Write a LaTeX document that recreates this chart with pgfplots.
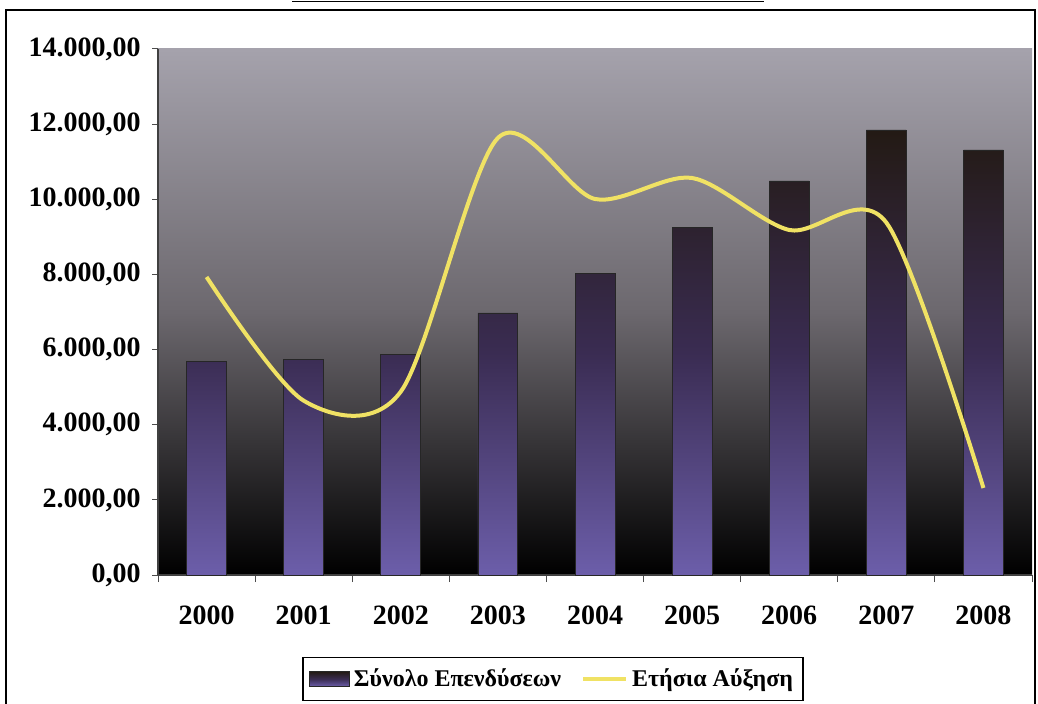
\documentclass[border=0pt]{standalone}
\usepackage{fontspec}
\setmainfont{Liberation Serif}
\usepackage{pgfplots}
\pgfplotsset{compat=1.18}

\definecolor{barTop}{RGB}{35,26,20}
\definecolor{barMid}{RGB}{58,44,82}
\definecolor{barBot}{RGB}{108,94,170}
\definecolor{bgTop}{RGB}{165,162,172}
\definecolor{bgMid}{RGB}{108,104,110}
\definecolor{lineYellow}{RGB}{240,226,100}

\newcommand{\chartfont}{\fontsize{14}{16.5}\selectfont\bfseries}
\newcommand{\legendfont}{\fontsize{12}{14}\selectfont\bfseries}

\begin{document}
\begin{tikzpicture}
\path[use as bounding box] (0pt,0pt) rectangle (519pt,351.5pt);
% page frame
\draw[line width=1pt] (3pt,-2pt) -- (3pt,346.5pt) -- (517.5pt,346.5pt) -- (517.5pt,-2pt);
\draw[line width=0.6pt] (146pt,350.8pt) -- (382pt,350.8pt);
\begin{axis}[
  at={(79pt,64pt)}, anchor=south west,
  scale only axis, width=437pt, height=263pt,
  xmin=-0.5, xmax=8.5, ymin=0, ymax=14000,
  axis background/.style={top color=bgTop, bottom color=black, middle color=bgMid},
  axis x line*=bottom, axis y line*=left,
  axis line style={black!75, line width=0.6pt},
  xtick={0,...,8},
  xticklabels={2000,2001,2002,2003,2004,2005,2006,2007,2008},
  minor xtick={-0.5,0.5,...,8.5},
  ytick={0,2000,...,14000},
  tick align=outside,
  major tick length=3pt, minor tick length=3.5pt,
  major x tick style={draw=none},
  minor x tick style={black!70, line width=0.5pt},
  y tick style={black!70, line width=0.5pt},
  scaled y ticks=false,
  tick label style={font=\chartfont},
  yticklabel style={inner sep=0pt, xshift=-5.5pt,
    /pgf/number format/.cd, fixed, fixed zerofill, precision=2,
    use comma, 1000 sep={.}, assume math mode=true},
  xticklabel style={inner sep=0pt, yshift=-12pt},
  legend style={at={(0.452,-0.1977)}, anchor=center, legend columns=-1,
    draw=black, line width=0.8pt, font=\legendfont, inner xsep=3pt, inner ysep=3.5pt,
    /tikz/every even column/.append style={column sep=8pt}},
]
\addplot[ybar, bar width=0.41, draw=black!85, line width=0.4pt,
  top color=barTop, bottom color=barBot, middle color=barMid,
  legend image code/.code={\draw[top color=barTop, bottom color=barBot, middle color=barMid, draw=black!85, line width=0.4pt] (0pt,-3.7pt) rectangle (20pt,3.7pt);}]
  coordinates {(0,5677) (1,5741) (2,5877) (3,6974) (4,8038) (5,9255) (6,10487) (7,11845) (8,11312)};
\addlegendentry{Σύνολο Επενδύσεων}
\addplot[smooth, tension=0.5, color=lineYellow, line width=2pt, mark=none,
  legend image code/.code={\draw[lineYellow, line width=2pt] (0pt,0pt) -- (21.5pt,0pt);}]
  coordinates {(0,7932) (1,4640) (2,4880) (3,11632) (4,10008) (5,10567) (6,9183) (7,9380) (8,2316)};
\addlegendentry{Ετήσια Αύξηση}
\end{axis}
\end{tikzpicture}
\end{document}
